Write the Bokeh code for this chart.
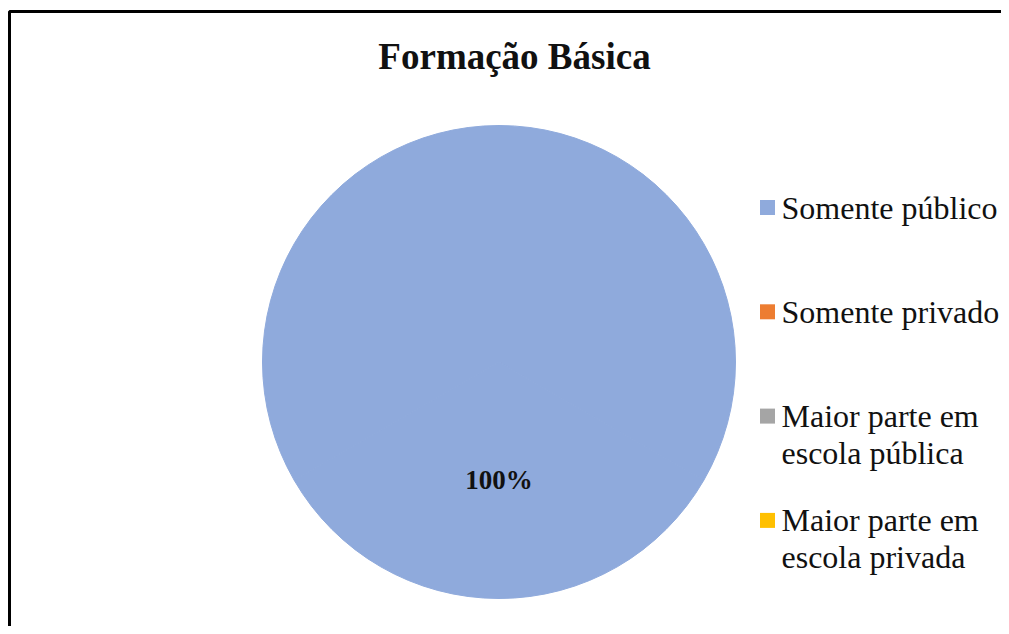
import math
from bokeh.plotting import figure
from bokeh.models import Range1d, ColumnDataSource
from bokeh.core.properties import value
from bokeh.embed import file_html
from bokeh.resources import INLINE

# ---- data ----
title_text = "Formação Básica"
categories = ["Somente público", "Somente privado",
              "Maior parte em\nescola pública", "Maior parte em\nescola privada"]
values = [100, 0, 0, 0]
colors = ["#8FAADC", "#ED7D31", "#A5A5A5", "#FFC000"]

W, H = 1001, 626
p = figure(width=W, height=H, output_backend="svg", toolbar_location=None,
           x_range=Range1d(0, W), y_range=Range1d(0, H),
           min_border=0, outline_line_color=None)
p.axis.visible = False
p.grid.visible = False
p.background_fill_color = "white"
p.border_fill_color = "white"

def fy(page_y):
    return H - page_y

def fx(page_x):
    return page_x

# frame border (left + top)
p.line([fx(9), fx(9), W], [0, fy(11), fy(11)], line_color="black", line_width=3)

# pie (each slice drawn as 3 sub-arcs so a full 100% slice renders in SVG)
cx, cy, r = fx(498.5), fy(361.5), 236.5
total = sum(values)
starts, ends, cols, lab_x, lab_y, labs = [], [], [], [], [], []
cum = 0.0
for v, c in zip(values, colors):
    frac = v / total
    a0 = math.pi / 2 - 2 * math.pi * cum
    a1 = math.pi / 2 - 2 * math.pi * (cum + frac)
    cum += frac
    if v > 0:
        n = 3
        for k in range(n):
            starts.append(a0 + (a1 - a0) * k / n)
            ends.append(a0 + (a1 - a0) * (k + 1) / n)
            cols.append(c)
        mid = (a0 + a1) / 2
        lab_x.append(cx + 0.5 * r * math.cos(mid))
        lab_y.append(cy + 0.5 * r * math.sin(mid))
        labs.append(f"{v / total * 100:.0f}%")

src = ColumnDataSource(dict(s=starts, e=ends, c=cols))
p.wedge(x=cx, y=cy, radius=r, start_angle="s", end_angle="e", direction="clock",
        fill_color="c", line_color="c", line_width=1, source=src)

p.text(x=lab_x, y=lab_y, text=labs, text_font=value("Liberation Serif"),
       text_font_style="bold", text_font_size="27px", text_color="#111111",
       text_align="center", text_baseline="middle")

# title
p.text(x=[fx(514)], y=[fy(56)], text=[title_text], text_font=value("Liberation Serif"),
       text_font_style="bold", text_font_size="37px", text_color="#111111",
       text_align="center", text_baseline="alphabetic")

# legend (manual)
first_y = 207
step = 104.3
line_h = 36.5
sq_x, sq_y, sq_c = [], [], []
tx, ty, tt = [], [], []
for i, (lab, c) in enumerate(zip(categories, colors)):
    base = first_y + i * step
    sq_x.append(fx(767))
    sq_y.append(fy(base))
    sq_c.append(c)
    for j, line in enumerate(lab.split("\n")):
        tx.append(fx(781))
        ty.append(fy(base + j * line_h))
        tt.append(line)

p.rect(x=sq_x, y=sq_y, width=15, height=15, fill_color=sq_c, line_color=None)
p.text(x=tx, y=ty, text=tt, text_font=value("Liberation Serif"),
       text_font_size="32px", text_color="#111111",
       text_align="left", text_baseline="alphabetic")

open("out.html", "w").write(file_html(p, INLINE))
